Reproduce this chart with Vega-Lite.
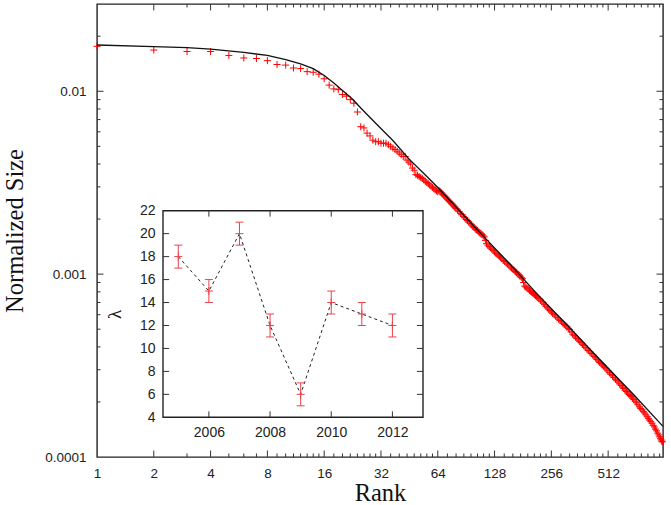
{
  "$schema": "https://vega.github.io/schema/vega-lite/v6.json",
  "width": 566,
  "height": 453,
  "autosize": {"type": "none"},
  "padding": {"left": 97, "top": 4, "right": 8, "bottom": 48},
  "background": "white",
  "config": {
    "view": {"stroke": "#222", "strokeWidth": 1.4},
    "axis": {
      "labelFont": "Liberation Sans", "labelFontSize": 13.5, "labelColor": "#222",
      "tickColor": "#333", "tickWidth": 1, "domain": false, "grid": false,
      "titleFont": "Liberation Serif", "titleFontWeight": "normal", "titleColor": "#111",
      "zindex": 1, "labelFlush": false, "labelOverlap": false
    },
    "rule": {"color": "#333", "strokeWidth": 1}
  },
  "datasets": {
    "main": [
      {"rank":1,"size":0.0176},{"rank":2,"size":0.0168},{"rank":3,"size":0.0165},{"rank":4,"size":0.0165},
      {"rank":5,"size":0.0157},{"rank":6,"size":0.0152},{"rank":7,"size":0.0151},{"rank":8,"size":0.0147},
      {"rank":9,"size":0.0140},{"rank":10,"size":0.0139},{"rank":11,"size":0.0134},{"rank":12,"size":0.0133},
      {"rank":13,"size":0.0128},{"rank":14,"size":0.0127},{"rank":15,"size":0.0124},{"rank":16,"size":0.0117},
      {"rank":17,"size":0.0108},{"rank":18,"size":0.0103},{"rank":19,"size":0.0102},{"rank":20,"size":0.0096},
      {"rank":21,"size":0.0094},{"rank":22,"size":0.0090},{"rank":23,"size":0.0086},{"rank":24,"size":0.0077},
      {"rank":25,"size":0.0064},{"rank":26,"size":0.0063},{"rank":27,"size":0.0059},{"rank":28,"size":0.0057},
      {"rank":29,"size":0.0054},{"rank":30,"size":0.0053},{"rank":31,"size":0.0053},{"rank":32,"size":0.0052},
      {"rank":33,"size":0.0052},{"rank":34,"size":0.0052},{"rank":35,"size":0.0051},{"rank":36,"size":0.0050},
      {"rank":37,"size":0.0049},{"rank":38,"size":0.0048},{"rank":39,"size":0.0047},{"rank":40,"size":0.0046},
      {"rank":41,"size":0.0045},{"rank":42,"size":0.0044},{"rank":43,"size":0.0044},{"rank":44,"size":0.0042},
      {"rank":45,"size":0.0041},{"rank":46,"size":0.0040},{"rank":47,"size":0.0038},{"rank":48,"size":0.0037},
      {"rank":49,"size":0.0035},{"rank":50,"size":0.00347},{"rank":51,"size":0.00342},{"rank":52,"size":0.00338},
      {"rank":53,"size":0.00333},{"rank":54,"size":0.00327},{"rank":55,"size":0.00322},{"rank":56,"size":0.00317},
      {"rank":57,"size":0.00312},{"rank":58,"size":0.00307},{"rank":59,"size":0.00303},{"rank":60,"size":0.00298},
      {"rank":61,"size":0.00293},{"rank":62,"size":0.00289},{"rank":63,"size":0.00285},{"rank":64,"size":0.00282},
      {"rank":65,"size":0.00287},{"rank":66,"size":0.002824},{"rank":67,"size":0.00278},{"rank":68,"size":0.002733},
      {"rank":69,"size":0.00269},{"rank":70,"size":0.002648},{"rank":71,"size":0.00261},{"rank":72,"size":0.002568},
      {"rank":73,"size":0.00253},{"rank":74,"size":0.002491},{"rank":75,"size":0.00246},{"rank":76,"size":0.00242},
      {"rank":77,"size":0.00239},{"rank":78,"size":0.002351},{"rank":79,"size":0.00232},{"rank":80,"size":0.002286},
      {"rank":81.5,"size":0.00224},{"rank":83,"size":0.002196},{"rank":84.5,"size":0.00215},{"rank":86,"size":0.002112},
      {"rank":87.5,"size":0.00207},{"rank":89,"size":0.002034},{"rank":90.5,"size":0.00199},{"rank":92,"size":0.001962},
      {"rank":93.5,"size":0.00193},{"rank":95,"size":0.001893},{"rank":96.5,"size":0.00186},{"rank":98,"size":0.00183},
      {"rank":99.5,"size":0.0018},{"rank":101,"size":0.00177},{"rank":102.5,"size":0.00175},{"rank":104,"size":0.001733},
      {"rank":105.5,"size":0.0017},{"rank":107,"size":0.001679},{"rank":108.5,"size":0.00166},{"rank":110,"size":0.001645},
      {"rank":111.5,"size":0.00162},{"rank":113,"size":0.001597},{"rank":114.5,"size":0.00153},{"rank":116,"size":0.001467},
      {"rank":118,"size":0.00144},{"rank":120,"size":0.001413},{"rank":122,"size":0.00139},{"rank":124,"size":0.00137},
      {"rank":126,"size":0.00135},{"rank":128,"size":0.001323},{"rank":130,"size":0.0013},{"rank":132,"size":0.001286},
      {"rank":134,"size":0.00127},{"rank":136,"size":0.001252},{"rank":138,"size":0.00123},{"rank":140,"size":0.001212},
      {"rank":142.5,"size":0.00119},{"rank":145,"size":0.001172},{"rank":147.5,"size":0.00115},{"rank":150,"size":0.001136},
      {"rank":152.5,"size":0.00112},{"rank":155,"size":0.001095},{"rank":157.5,"size":0.00108},{"rank":160,"size":0.001064},
      {"rank":162.5,"size":0.00105},{"rank":165,"size":0.001034},{"rank":167.5,"size":0.00102},{"rank":170,"size":0.001001},
      {"rank":172.5,"size":0.00099},{"rank":175,"size":0.000974},{"rank":177.5,"size":0.00096},{"rank":180,"size":0.000944},
      {"rank":182.5,"size":0.0009},{"rank":185,"size":0.00086},{"rank":187.5,"size":0.00085},{"rank":190,"size":0.00084},
      {"rank":193,"size":0.00083},{"rank":196,"size":0.000816},{"rank":199,"size":0.000805},{"rank":202,"size":0.000794},
      {"rank":205,"size":0.000783},{"rank":208,"size":0.000773},{"rank":211,"size":0.000763},{"rank":214,"size":0.000753},
      {"rank":217,"size":0.000743},{"rank":220,"size":0.000734},{"rank":224,"size":0.00072},{"rank":228,"size":0.000707},
      {"rank":232,"size":0.000694},{"rank":236,"size":0.000681},{"rank":240,"size":0.000667},{"rank":244,"size":0.000654},
      {"rank":248,"size":0.000643},{"rank":252,"size":0.000632},{"rank":256,"size":0.000621},{"rank":260,"size":0.000611},
      {"rank":265,"size":0.0006},{"rank":270,"size":0.00059},{"rank":275,"size":0.000578},{"rank":280,"size":0.000567},
      {"rank":285,"size":0.000558},{"rank":290,"size":0.000549},{"rank":295,"size":0.000539},{"rank":300,"size":0.00053},
      {"rank":305,"size":0.000522},{"rank":310,"size":0.000514},{"rank":315,"size":0.000505},{"rank":320,"size":0.000497},
      {"rank":326,"size":0.000483},{"rank":332,"size":0.00047},{"rank":338,"size":0.000461},{"rank":344,"size":0.000453},
      {"rank":350,"size":0.000445},{"rank":356,"size":0.000437},{"rank":362,"size":0.000429},{"rank":368,"size":0.000422},
      {"rank":374,"size":0.000414},{"rank":380,"size":0.000407},{"rank":387,"size":0.000398},{"rank":395,"size":0.00039},
      {"rank":402,"size":0.000382},{"rank":410,"size":0.000375},{"rank":417,"size":0.000368},{"rank":425,"size":0.000361},
      {"rank":432,"size":0.000354},{"rank":440,"size":0.000348},{"rank":447,"size":0.000341},{"rank":455,"size":0.000335},
      {"rank":462,"size":0.000329},{"rank":470,"size":0.000324},{"rank":477,"size":0.000319},{"rank":485,"size":0.000314},
      {"rank":492,"size":0.000308},{"rank":500,"size":0.000303},{"rank":510,"size":0.000296},{"rank":520,"size":0.000289},
      {"rank":530,"size":0.000283},{"rank":540,"size":0.000278},{"rank":550,"size":0.000272},{"rank":560,"size":0.000266},
      {"rank":570,"size":0.000261},{"rank":580,"size":0.000257},{"rank":590,"size":0.000251},{"rank":600,"size":0.000246},
      {"rank":610,"size":0.000241},{"rank":620,"size":0.000237},{"rank":630,"size":0.000232},{"rank":640,"size":0.000228},
      {"rank":650,"size":0.000224},{"rank":660,"size":0.00022},{"rank":670,"size":0.000217},{"rank":680,"size":0.000214},
      {"rank":690,"size":0.00021},{"rank":700,"size":0.000206},{"rank":712,"size":0.000202},{"rank":725,"size":0.000198},
      {"rank":737,"size":0.000193},{"rank":750,"size":0.000188},{"rank":762,"size":0.000184},{"rank":775,"size":0.000181},
      {"rank":787,"size":0.000177},{"rank":800,"size":0.000174},{"rank":812,"size":0.00017},{"rank":825,"size":0.000166},
      {"rank":837,"size":0.000162},{"rank":850,"size":0.000159},{"rank":862,"size":0.000156},{"rank":875,"size":0.000153},
      {"rank":887,"size":0.000149},{"rank":900,"size":0.000146},{"rank":912,"size":0.000142},{"rank":925,"size":0.000139},
      {"rank":937,"size":0.000135},{"rank":950,"size":0.000132},{"rank":960,"size":0.000129},{"rank":970,"size":0.000126},
      {"rank":978,"size":0.000124},{"rank":985,"size":0.000122},{"rank":992,"size":0.000121}
    ],
    "fit": [
      {"rank":1,"size":0.0179},{"rank":2,"size":0.01755},{"rank":3,"size":0.0173},{"rank":4,"size":0.0170},
      {"rank":6,"size":0.0163},{"rank":8,"size":0.0157},{"rank":10,"size":0.0149},{"rank":12,"size":0.0141},
      {"rank":14,"size":0.0133},{"rank":16,"size":0.0122},{"rank":18,"size":0.0111},{"rank":20,"size":0.0101},
      {"rank":22.5,"size":0.0091},{"rank":25,"size":0.0081},{"rank":30,"size":0.00668},{"rank":37,"size":0.00538},
      {"rank":45,"size":0.00427},{"rank":55,"size":0.00348},{"rank":65,"size":0.00293},{"rank":80,"size":0.00233},
      {"rank":110,"size":0.00164},{"rank":150,"size":0.00117},{"rank":220,"size":0.00076},{"rank":320,"size":0.00051},
      {"rank":470,"size":0.000335},{"rank":700,"size":0.000219},{"rank":1000,"size":0.000147}
    ],
    "inset": [
      {"year":2005,"lam":18,"lo":17,"hi":19},
      {"year":2006,"lam":15,"lo":14,"hi":16},
      {"year":2007,"lam":20,"lo":19,"hi":21},
      {"year":2008,"lam":12,"lo":11,"hi":13},
      {"year":2009,"lam":6,"lo":5,"hi":7},
      {"year":2010,"lam":14,"lo":13,"hi":15},
      {"year":2011,"lam":13,"lo":12,"hi":14},
      {"year":2012,"lam":12,"lo":11,"hi":13}
    ],
    "frame": [{"x1":2004.5,"x2":2013,"y1":4,"y2":22}],
    "xmaj": [{"v":2},{"v":4},{"v":8},{"v":16},{"v":32},{"v":64},{"v":128},{"v":256},{"v":512}],
    "xmin": [{"v":3},{"v":5},{"v":6},{"v":7},{"v":9},{"v":10},{"v":11},{"v":12},{"v":13},{"v":14},{"v":15},
      {"v":18},{"v":20},{"v":22},{"v":24},{"v":26},{"v":28},{"v":30},{"v":36},{"v":40},{"v":44},{"v":48},{"v":52},{"v":56},{"v":60},
      {"v":72},{"v":80},{"v":88},{"v":96},{"v":104},{"v":112},{"v":120},{"v":144},{"v":160},{"v":176},{"v":192},{"v":208},{"v":224},{"v":240},
      {"v":288},{"v":320},{"v":352},{"v":384},{"v":416},{"v":448},{"v":480},{"v":576},{"v":640},{"v":704},{"v":768},{"v":832},{"v":896},{"v":960}],
    "ymaj": [{"v":0.001},{"v":0.01}],
    "ymin": [{"v":0.0002},{"v":0.0003},{"v":0.0004},{"v":0.0005},{"v":0.0006},{"v":0.0007},{"v":0.0008},{"v":0.0009},
      {"v":0.002},{"v":0.003},{"v":0.004},{"v":0.005},{"v":0.006},{"v":0.007},{"v":0.008},{"v":0.009},{"v":0.02}],
    "ixt": [{"v":2006},{"v":2008},{"v":2010},{"v":2012}],
    "iyt": [{"v":6},{"v":8},{"v":10},{"v":12},{"v":14},{"v":16},{"v":18},{"v":20}]
  },
  "layer": [
    {
      "data": {"name": "main"},
      "mark": {"type": "point", "shape": "M-1,0H1M0,-1V1", "size": 49, "filled": false, "color": "red", "strokeWidth": 1, "opacity": 1},
      "encoding": {
        "x": {"field": "rank", "type": "quantitative",
          "scale": {"type": "log", "base": 2, "domain": [1, 1000], "nice": false},
          "axis": {"orient": "bottom", "values": [1,2,4,8,16,32,64,128,256,512], "format": "d", "ticks": false, "labelPadding": 9,
            "title": "Rank", "titleFontSize": 24.5, "titleX": 283, "titleY": 43, "titleBaseline": "alphabetic", "titleAlign": "center", "titleAngle": 0}},
        "y": {"field": "size", "type": "quantitative",
          "scale": {"type": "log", "domain": [0.0001, 0.03], "nice": false},
          "axis": {"orient": "left", "values": [0.0001, 0.001, 0.01], "format": "~g", "ticks": false, "labelPadding": 11,
            "title": "Normalized Size", "titleFontSize": 24.5, "titleX": -75, "titleY": 226.5, "titleBaseline": "alphabetic", "titleAlign": "center", "titleAngle": 270}}
      }
    },
    {
      "data": {"name": "fit"},
      "mark": {"type": "line", "color": "#111", "strokeWidth": 1.3},
      "encoding": {
        "x": {"field": "rank", "type": "quantitative", "scale": {"type": "log", "base": 2, "domain": [1, 1000], "nice": false}, "axis": null},
        "y": {"field": "size", "type": "quantitative", "scale": {"type": "log", "domain": [0.0001, 0.03], "nice": false}, "axis": null}
      }
    },
    {
      "data": {"name": "xmaj"},
      "mark": {"type": "rule"},
      "encoding": {
        "x": {"field": "v", "type": "quantitative", "scale": {"type": "log", "base": 2, "domain": [1, 1000], "nice": false}, "axis": null},
        "y": {"datum": 0.0001, "type": "quantitative", "scale": {"type": "log", "domain": [0.0001, 0.03], "nice": false}, "axis": null},
        "y2": {"datum": 0.0001085}
      }
    },
    {
      "data": {"name": "xmaj"},
      "mark": {"type": "rule"},
      "encoding": {
        "x": {"field": "v", "type": "quantitative", "scale": {"type": "log", "base": 2, "domain": [1, 1000], "nice": false}, "axis": null},
        "y": {"datum": 0.03, "type": "quantitative", "scale": {"type": "log", "domain": [0.0001, 0.03], "nice": false}, "axis": null},
        "y2": {"datum": 0.02765}
      }
    },
    {
      "data": {"name": "xmin"},
      "mark": {"type": "rule"},
      "encoding": {
        "x": {"field": "v", "type": "quantitative", "scale": {"type": "log", "base": 2, "domain": [1, 1000], "nice": false}, "axis": null},
        "y": {"datum": 0.0001, "type": "quantitative", "scale": {"type": "log", "domain": [0.0001, 0.03], "nice": false}, "axis": null},
        "y2": {"datum": 0.0001045}
      }
    },
    {
      "data": {"name": "xmin"},
      "mark": {"type": "rule"},
      "encoding": {
        "x": {"field": "v", "type": "quantitative", "scale": {"type": "log", "base": 2, "domain": [1, 1000], "nice": false}, "axis": null},
        "y": {"datum": 0.03, "type": "quantitative", "scale": {"type": "log", "domain": [0.0001, 0.03], "nice": false}, "axis": null},
        "y2": {"datum": 0.02871}
      }
    },
    {
      "data": {"name": "ymaj"},
      "mark": {"type": "rule"},
      "encoding": {
        "y": {"field": "v", "type": "quantitative", "scale": {"type": "log", "domain": [0.0001, 0.03], "nice": false}, "axis": null},
        "x": {"datum": 1, "type": "quantitative", "scale": {"type": "log", "base": 2, "domain": [1, 1000], "nice": false}, "axis": null},
        "x2": {"datum": 1.083}
      }
    },
    {
      "data": {"name": "ymaj"},
      "mark": {"type": "rule"},
      "encoding": {
        "y": {"field": "v", "type": "quantitative", "scale": {"type": "log", "domain": [0.0001, 0.03], "nice": false}, "axis": null},
        "x": {"datum": 1000, "type": "quantitative", "scale": {"type": "log", "base": 2, "domain": [1, 1000], "nice": false}, "axis": null},
        "x2": {"datum": 923.4}
      }
    },
    {
      "data": {"name": "ymin"},
      "mark": {"type": "rule"},
      "encoding": {
        "y": {"field": "v", "type": "quantitative", "scale": {"type": "log", "domain": [0.0001, 0.03], "nice": false}, "axis": null},
        "x": {"datum": 1, "type": "quantitative", "scale": {"type": "log", "base": 2, "domain": [1, 1000], "nice": false}, "axis": null},
        "x2": {"datum": 1.0438}
      }
    },
    {
      "data": {"name": "ymin"},
      "mark": {"type": "rule"},
      "encoding": {
        "y": {"field": "v", "type": "quantitative", "scale": {"type": "log", "domain": [0.0001, 0.03], "nice": false}, "axis": null},
        "x": {"datum": 1000, "type": "quantitative", "scale": {"type": "log", "base": 2, "domain": [1, 1000], "nice": false}, "axis": null},
        "x2": {"datum": 958.0}
      }
    },
    {
      "data": {"name": "frame"},
      "mark": {"type": "rect", "fill": "white", "stroke": "#222", "strokeWidth": 1.4},
      "encoding": {
        "x": {"field": "x1", "type": "quantitative",
          "scale": {"domain": [2004.5, 2013], "range": [66, 326], "nice": false, "zero": false},
          "axis": {"orient": "bottom", "offset": -39.7, "values": [2006,2008,2010,2012], "format": "d", "ticks": false, "labelPadding": 8, "labelFontSize": 14, "title": null}},
        "x2": {"field": "x2"},
        "y": {"field": "y1", "type": "quantitative",
          "scale": {"domain": [4, 22], "range": [413.3, 206.7], "nice": false, "zero": false},
          "axis": {"orient": "left", "offset": -66, "values": [4,6,8,10,12,14,16,18,20,22], "ticks": false, "labelPadding": 8, "labelFontSize": 14,
            "title": "λ", "titleFontSize": 19, "titleAngle": 270, "titleX": -43, "titleY": 310, "titleBaseline": "alphabetic", "titleAlign": "center"}},
        "y2": {"field": "y2"}
      }
    },
    {
      "data": {"name": "ixt"},
      "mark": {"type": "rule"},
      "encoding": {
        "x": {"field": "v", "type": "quantitative", "scale": {"domain": [2004.5, 2013], "range": [66, 326], "nice": false, "zero": false}, "axis": null},
        "y": {"datum": 4, "type": "quantitative", "scale": {"domain": [4, 22], "range": [413.3, 206.7], "nice": false, "zero": false}, "axis": null},
        "y2": {"datum": 4.52}
      }
    },
    {
      "data": {"name": "ixt"},
      "mark": {"type": "rule"},
      "encoding": {
        "x": {"field": "v", "type": "quantitative", "scale": {"domain": [2004.5, 2013], "range": [66, 326], "nice": false, "zero": false}, "axis": null},
        "y": {"datum": 22, "type": "quantitative", "scale": {"domain": [4, 22], "range": [413.3, 206.7], "nice": false, "zero": false}, "axis": null},
        "y2": {"datum": 21.48}
      }
    },
    {
      "data": {"name": "iyt"},
      "mark": {"type": "rule"},
      "encoding": {
        "y": {"field": "v", "type": "quantitative", "scale": {"domain": [4, 22], "range": [413.3, 206.7], "nice": false, "zero": false}, "axis": null},
        "x": {"datum": 2004.5, "type": "quantitative", "scale": {"domain": [2004.5, 2013], "range": [66, 326], "nice": false, "zero": false}, "axis": null},
        "x2": {"datum": 2004.7}
      }
    },
    {
      "data": {"name": "iyt"},
      "mark": {"type": "rule"},
      "encoding": {
        "y": {"field": "v", "type": "quantitative", "scale": {"domain": [4, 22], "range": [413.3, 206.7], "nice": false, "zero": false}, "axis": null},
        "x": {"datum": 2013, "type": "quantitative", "scale": {"domain": [2004.5, 2013], "range": [66, 326], "nice": false, "zero": false}, "axis": null},
        "x2": {"datum": 2012.8}
      }
    },
    {
      "data": {"name": "inset"},
      "mark": {"type": "line", "color": "#222", "strokeWidth": 1, "strokeDash": [3, 3]},
      "encoding": {
        "x": {"field": "year", "type": "quantitative", "scale": {"domain": [2004.5, 2013], "range": [66, 326], "nice": false, "zero": false}, "axis": null},
        "y": {"field": "lam", "type": "quantitative", "scale": {"domain": [4, 22], "range": [413.3, 206.7], "nice": false, "zero": false}, "axis": null}
      }
    },
    {
      "data": {"name": "inset"},
      "mark": {"type": "rule", "color": "#e8444c", "strokeWidth": 1},
      "encoding": {
        "x": {"field": "year", "type": "quantitative", "scale": {"domain": [2004.5, 2013], "range": [66, 326], "nice": false, "zero": false}, "axis": null},
        "y": {"field": "lo", "type": "quantitative", "scale": {"domain": [4, 22], "range": [413.3, 206.7], "nice": false, "zero": false}, "axis": null},
        "y2": {"field": "hi"}
      }
    },
    {
      "data": {"name": "inset"},
      "mark": {"type": "tick", "orient": "horizontal", "size": 8, "thickness": 1, "color": "#e8444c", "opacity": 1},
      "encoding": {
        "x": {"field": "year", "type": "quantitative", "scale": {"domain": [2004.5, 2013], "range": [66, 326], "nice": false, "zero": false}, "axis": null},
        "y": {"field": "lo", "type": "quantitative", "scale": {"domain": [4, 22], "range": [413.3, 206.7], "nice": false, "zero": false}, "axis": null}
      }
    },
    {
      "data": {"name": "inset"},
      "mark": {"type": "tick", "orient": "horizontal", "size": 8, "thickness": 1, "color": "#e8444c", "opacity": 1},
      "encoding": {
        "x": {"field": "year", "type": "quantitative", "scale": {"domain": [2004.5, 2013], "range": [66, 326], "nice": false, "zero": false}, "axis": null},
        "y": {"field": "hi", "type": "quantitative", "scale": {"domain": [4, 22], "range": [413.3, 206.7], "nice": false, "zero": false}, "axis": null}
      }
    },
    {
      "data": {"name": "inset"},
      "mark": {"type": "point", "shape": "M-1,0H1M0,-1V1", "size": 64, "filled": false, "color": "#e8444c", "strokeWidth": 1, "opacity": 1},
      "encoding": {
        "x": {"field": "year", "type": "quantitative", "scale": {"domain": [2004.5, 2013], "range": [66, 326], "nice": false, "zero": false}, "axis": null},
        "y": {"field": "lam", "type": "quantitative", "scale": {"domain": [4, 22], "range": [413.3, 206.7], "nice": false, "zero": false}, "axis": null}
      }
    }
  ],
  "resolve": {
    "scale": {"x": "independent", "y": "independent"},
    "axis": {"x": "independent", "y": "independent"}
  }
}
